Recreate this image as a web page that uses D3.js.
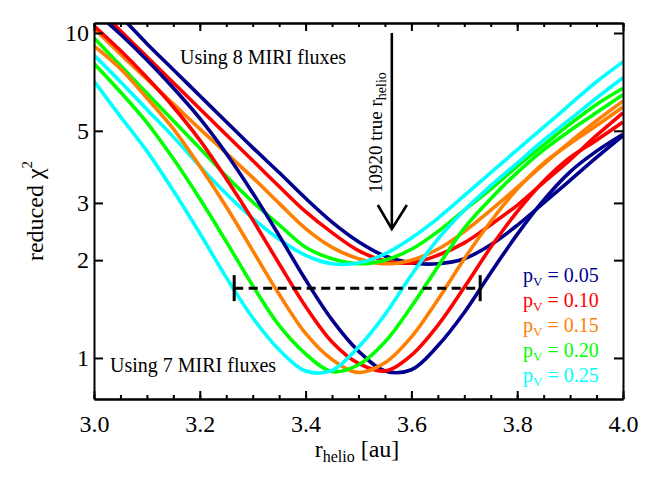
<!DOCTYPE html>
<html><head><meta charset="utf-8">
<script src="https://cdn.jsdelivr.net/npm/d3@7"></script>
<style>body{margin:0;background:#fff} text{font-family:"Liberation Serif","Times New Roman",serif;}</style>
</head><body><svg id="chart" width="660" height="485"></svg>
<script>
// ---- data ----
const rHelio = [3.00,3.05,3.10,3.15,3.20,3.25,3.30,3.35,3.40,3.45,3.50,3.55,3.60,3.65,3.70,3.75,3.80,3.85,3.90,3.95,4.00];
const albedoLabels = ["0.05","0.10","0.15","0.20","0.25"];
const albedoColors = ["#00008c","#ff0000","#ff8000","#00ff00","#00ffff"];

// reduced chi^2 using 8 MIRI fluxes
const chi8_pv005 = [13.5,11.27,9.27,7.71,6.41,5.33,4.44,3.72,3.10,2.62,2.28,2.06,1.96,1.95,2.02,2.23,2.56,3.00,3.52,4.14,4.83];
const chi8_pv010 = [12.3,10.16,8.45,7.03,5.85,4.86,4.05,3.37,2.82,2.43,2.14,1.99,1.96,2.07,2.26,2.57,2.95,3.47,4.07,4.84,5.68];
const chi8_pv015 = [10.35,8.61,7.21,6.05,5.07,4.27,3.59,2.99,2.50,2.19,2.02,1.95,2.00,2.16,2.45,2.85,3.35,3.94,4.62,5.37,6.17];
const chi8_pv020 = [9.66,7.94,6.53,5.37,4.42,3.63,3.02,2.57,2.19,2.02,1.95,2.00,2.16,2.45,2.85,3.31,3.89,4.52,5.25,6.03,6.76];
const chi8_pv025 = [8.55,7.08,5.82,4.79,3.89,3.20,2.69,2.32,2.07,1.95,1.96,2.09,2.34,2.69,3.16,3.72,4.37,5.13,6.03,7.08,8.15];

// reduced chi^2 using 7 MIRI fluxes
const chi7_pv005 = [11.7,9.91,8.26,6.77,5.46,4.26,3.22,2.38,1.74,1.31,1.05,0.912,0.92,1.09,1.38,1.83,2.40,3.06,3.74,4.33,4.88];
const chi7_pv010 = [10.53,8.83,7.29,5.92,4.68,3.56,2.66,1.95,1.44,1.12,0.962,0.912,1.02,1.26,1.65,2.19,2.82,3.50,4.14,4.68,5.32];
const chi7_pv015 = [9.12,7.76,6.31,5.07,3.89,2.92,2.14,1.57,1.19,0.989,0.902,0.966,1.16,1.51,2.02,2.63,3.31,3.98,4.57,5.19,5.92];
const chi7_pv020 = [8.05,6.58,5.30,4.10,3.09,2.28,1.67,1.26,1.03,0.908,0.953,1.12,1.44,1.91,2.51,3.09,3.72,4.37,5.01,5.69,6.46];
const chi7_pv025 = [7.11,5.53,4.33,3.27,2.42,1.77,1.33,1.06,0.912,0.916,1.08,1.36,1.80,2.32,2.85,3.39,3.98,4.68,5.43,6.31,7.28];

const chi8Series = [chi8_pv005,chi8_pv010,chi8_pv015,chi8_pv020,chi8_pv025];
const chi7Series = [chi7_pv005,chi7_pv010,chi7_pv015,chi7_pv020,chi7_pv025];

const xMajorTicks = [3.0,3.2,3.4,3.6,3.8,4.0];
const xMinorTicks = d3.range(0,21).map(i => +(3 + i*0.05).toFixed(2));
const yTicks = [1,2,3,5,10];
const errLo = 3.265, errHi = 3.73, errChi = 1.64;
const trueRhelio = 3.563;

// ---- layout ----
const FONT = "'Liberation Serif','Times New Roman',serif";
const svg = d3.select("#chart").attr("font-family",FONT);
const L = 94, R = 623, T = 23, B = 399;
const x = d3.scaleLinear().domain([3,4]).range([L,R]);
const y = d3.scaleLog().domain([0.7477,10.734]).range([B,T]);

svg.append("defs").append("clipPath").attr("id","clip")
  .append("rect").attr("x",L).attr("y",T).attr("width",R-L).attr("height",B-T);

const line = d3.line().x((d,i)=>x(rHelio[i])).y(d=>y(d)).curve(d3.curveCatmullRom.alpha(0.5));
const plot = svg.append("g").attr("clip-path","url(#clip)");
chi8Series.forEach((s,k)=>{
  plot.append("path").attr("d",line(s)).attr("fill","none").attr("stroke",albedoColors[k]).attr("stroke-width",3.6);
});
chi7Series.forEach((s,k)=>{
  plot.append("path").attr("d",line(s)).attr("fill","none").attr("stroke",albedoColors[k]).attr("stroke-width",3.6);
});

// axes
function styleAxis(g){
  g.attr("font-family",FONT).attr("font-size",24);
  g.selectAll("path,line").attr("stroke","#000").attr("stroke-width",2);
  g.selectAll("text").attr("font-size",24).attr("fill","#000").attr("font-family",FONT);
}
svg.append("g").attr("transform",`translate(0,${B})`)
  .call(d3.axisBottom(x).tickValues(xMajorTicks).tickSize(-8).tickSizeOuter(0).tickPadding(16).tickFormat(d3.format(".1f")))
  .call(styleAxis);
svg.append("g").attr("transform",`translate(0,${B})`)
  .call(d3.axisBottom(x).tickValues(xMinorTicks).tickSize(-4).tickSizeOuter(0).tickFormat(""))
  .call(styleAxis);
svg.append("g").attr("transform",`translate(0,${T})`)
  .call(d3.axisTop(x).tickValues(xMajorTicks).tickSize(-8).tickSizeOuter(0).tickFormat(""))
  .call(styleAxis);
svg.append("g").attr("transform",`translate(0,${T})`)
  .call(d3.axisTop(x).tickValues(xMinorTicks).tickSize(-4).tickSizeOuter(0).tickFormat(""))
  .call(styleAxis);
svg.append("g").attr("transform",`translate(${L},0)`)
  .call(d3.axisLeft(y).tickValues(yTicks).tickSize(-9).tickSizeOuter(0).tickPadding(5).tickFormat(d3.format("d")))
  .call(styleAxis);
svg.append("g").attr("transform",`translate(${R},0)`)
  .call(d3.axisRight(y).tickValues(yTicks).tickSize(-9).tickSizeOuter(0).tickFormat(""))
  .call(styleAxis);

// axis titles
const xt = svg.append("text").attr("x",357).attr("y",457).attr("text-anchor","middle").attr("font-size",24);
xt.append("tspan").text("r");
xt.append("tspan").attr("font-size",16).attr("dy",5).text("helio");
xt.append("tspan").attr("dy",-5).text(" [au]");

const yt = svg.append("text").attr("transform","translate(43,211) rotate(-90)").attr("text-anchor","middle").attr("font-size",24);
yt.append("tspan").text("reduced \u03C7");
yt.append("tspan").attr("font-size",15).attr("dy",-11).text("2");

// annotations
svg.append("text").attr("x",180).attr("y",64).attr("font-size",20).text("Using 8 MIRI fluxes");
svg.append("text").attr("x",110).attr("y",372).attr("font-size",20).text("Using 7 MIRI fluxes");

// arrow
const ax = x(trueRhelio);
svg.append("line").attr("x1",ax).attr("x2",ax).attr("y1",33).attr("y2",229).attr("stroke","#000").attr("stroke-width",2.6);
svg.append("path").attr("d",`M${ax-14},205 L${ax},229 L${ax+15},205`).attr("fill","none").attr("stroke","#000").attr("stroke-width",2.6);
const at = svg.append("text").attr("transform",`translate(${ax-10},193) rotate(-90)`).attr("font-size",19);
at.append("tspan").text("10920 true r");
at.append("tspan").attr("font-size",14).attr("dy",4).text("helio");

// error bar
const ey = y(errChi);
svg.append("line").attr("x1",x(errLo)).attr("x2",x(errHi)).attr("y1",ey).attr("y2",ey)
  .attr("stroke","#000").attr("stroke-width",3).attr("stroke-dasharray","9,5.5");
[errLo,errHi].forEach(v=>{
  svg.append("line").attr("x1",x(v)).attr("x2",x(v)).attr("y1",ey-13).attr("y2",ey+13).attr("stroke","#000").attr("stroke-width",3);
});

// legend
albedoLabels.forEach((lab,k)=>{
  const t = svg.append("text").attr("x",523).attr("y",282+25*k).attr("font-size",20).attr("fill",albedoColors[k]);
  t.append("tspan").text("p");
  t.append("tspan").attr("font-size",13).attr("dy",4).text("V");
  t.append("tspan").attr("dy",-4).text(" = " + lab);
});
</script></body></html>
